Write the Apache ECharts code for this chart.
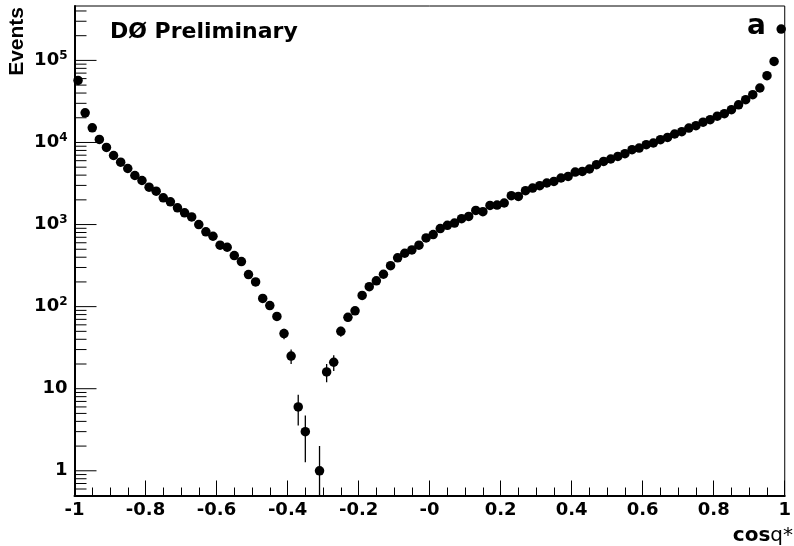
<!DOCTYPE html>
<html>
<head>
<meta charset="utf-8">
<script src="https://cdn.jsdelivr.net/npm/echarts@6/dist/echarts.min.js"></script>
<style>
  html, body { margin: 0; padding: 0; background: #fff; }
  #chart { width: 794px; height: 546px; }
</style>
</head>
<body>
<div id="chart"></div>
<script>
// histogram binning: 100 bins of cos(theta*) between -1 and 1
const xLow = -1
const xHigh = 1
const binWidth = 0.02

// events per bin, left to right (0 = empty bin)
const events = [
  57000, 23000, 15100, 10900, 8700, 6940, 5750, 4820, 3960, 3440,
  2850, 2550, 2120, 1890, 1600, 1390, 1240, 1000, 815, 720,
  560, 529, 419, 354, 246, 200, 126, 103, 76, 47,
  25, 6, 3, 0, 1, 16, 21, 50, 74, 89,
  137, 175, 206, 248, 315, 393, 447, 491, 560, 688,
  755, 894, 980, 1043, 1178, 1256, 1486, 1433, 1710, 1730,
  1830, 2245, 2200, 2583, 2786, 2972, 3207, 3353, 3690, 3857,
  4365, 4437, 4750, 5360, 5880, 6290, 6760, 7300, 8160, 8560,
  9390, 9850, 10810, 11530, 12680, 13520, 15000, 16000, 17660, 18930,
  20900, 22400, 25100, 28800, 33200, 38200, 46100, 65100, 97200, 241000,
]

const xTickLabels = ['-1', '-0.8', '-0.6', '-0.4', '-0.2', '-0', '0.2', '0.4', '0.6', '0.8', '1']
const yMajorTicks = [1, 10, 100, 1000, 10000, 100000]
const yTickLabels = ['1', '10', '{b|10}{s|2}', '{b|10}{s|3}', '{b|10}{s|4}', '{b|10}{s|5}']
const yMin = 0.5
const yMax = 4.6e5

const points = []
const errBars = []
events.forEach((n, i) => {
  if (n <= 0) return
  const x = xLow + binWidth * (i + 0.5)
  const e = Math.sqrt(n) // poisson error
  points.push([x, n])
  errBars.push([x, n, Math.max(n - e, yMin), n + e])
})

// y ticks (log axis): majors at decades, minors at 2..9 of each decade
const yTicks = []
yMajorTicks.forEach(v => yTicks.push([xLow, v, 22]))
for (let d = 0.1; d <= 1e5; d *= 10) {
  for (let k = 2; k <= 9; k++) {
    const v = k * d
    if (v >= yMin && v <= yMax) yTicks.push([xLow, v, 12])
  }
}

const chart = echarts.init(document.getElementById('chart'))

const option = {
  backgroundColor: '#fff',
  animation: false,
  grid: {
    left: 74.5, right: 1.5, top: 6, bottom: 50.5,
    show: true, borderColor: '#000', borderWidth: 1,
  },
  xAxis: {
    type: 'value',
    min: xLow,
    max: xHigh,
    interval: 0.2,
    axisLine: { onZero: false, lineStyle: { color: '#000', width: 2 } },
    axisTick: { inside: true, length: 15, lineStyle: { color: '#000', width: 1 } },
    minorTick: { show: true, splitNumber: 4, length: 8, lineStyle: { color: '#000', width: 1 } },
    splitLine: { show: false },
    axisLabel: {
      margin: 6,
      color: '#000',
      fontFamily: 'DejaVu Sans',
      fontWeight: 'bold',
      fontSize: 18,
      alignMinLabel: 'center',
      alignMaxLabel: 'center',
      formatter: v => xTickLabels[Math.round((v - xLow) / 0.2)],
    },
  },
  yAxis: {
    type: 'log',
    logBase: 10,
    min: yMin,
    max: yMax,
    axisLine: { onZero: false, lineStyle: { color: '#000', width: 2 } },
    axisTick: { show: false },
    splitLine: { show: false },
    axisLabel: {
      margin: 7,
      color: '#000',
      fontFamily: 'DejaVu Sans',
      fontWeight: 'bold',
      fontSize: 18,
      showMinLabel: false,
      showMaxLabel: false,
      formatter: v => {
        const i = yMajorTicks.findIndex(t => Math.abs(t - v) / t < 1e-6)
        return i < 0 ? '' : yTickLabels[i]
      },
      rich: {
        b: { fontFamily: 'DejaVu Sans', fontWeight: 'bold', fontSize: 18, color: '#000' },
        s: { fontFamily: 'DejaVu Sans', fontWeight: 'bold', fontSize: 12, color: '#000', verticalAlign: 'top', padding: [0, 0, 10, 0] },
      },
    },
  },
  series: [
    {
      type: 'custom',
      silent: true,
      z: 3,
      data: yTicks,
      renderItem: (params, api) => {
        const p = api.coord([api.value(0), api.value(1)])
        const len = api.value(2)
        return {
          type: 'line',
          shape: { x1: p[0], y1: p[1], x2: p[0] + len, y2: p[1] },
          style: { stroke: '#000', lineWidth: 1 },
        }
      },
    },
    {
      type: 'custom',
      silent: true,
      clip: true,
      data: errBars,
      renderItem: (params, api) => {
        const lo = api.coord([api.value(0), api.value(2)])
        const hi = api.coord([api.value(0), api.value(3)])
        return {
          type: 'line',
          shape: { x1: lo[0], y1: lo[1], x2: hi[0], y2: hi[1] },
          style: { stroke: '#000', lineWidth: 1.3 },
        }
      },
    },
    {
      type: 'scatter',
      symbol: 'circle',
      symbolSize: 9.5,
      itemStyle: { color: '#000', opacity: 1 },
      data: points,
      z: 4,
    },
  ],
  graphic: [
    {
      type: 'text',
      x: 17.5, y: 7,
      rotation: Math.PI / 2,
      style: {
        text: 'Events',
        fill: '#000',
        font: 'bold 21px "Liberation Sans", Arial, sans-serif',
        align: 'right',
        verticalAlign: 'middle',
      },
    },
    {
      type: 'text',
      x: 110, y: 32,
      style: {
        text: 'DØ Preliminary',
        fill: '#000',
        font: 'bold 22px "DejaVu Sans"',
        verticalAlign: 'middle',
      },
    },
    {
      type: 'text',
      x: 747, y: 27,
      style: {
        text: 'a',
        fill: '#000',
        font: 'bold 28px "DejaVu Sans"',
        verticalAlign: 'middle',
      },
    },
    {
      type: 'text',
      x: 793, y: 536,
      style: {
        text: '{b|cos}{n|q*}',
        align: 'right',
        verticalAlign: 'middle',
        rich: {
          b: { fontFamily: 'DejaVu Sans', fontWeight: 'bold', fontSize: 20, fill: '#000' },
          n: { fontFamily: 'DejaVu Sans', fontSize: 20, fill: '#000' },
        },
      },
    },
  ],
}

chart.setOption(option)
</script>
</body>
</html>
